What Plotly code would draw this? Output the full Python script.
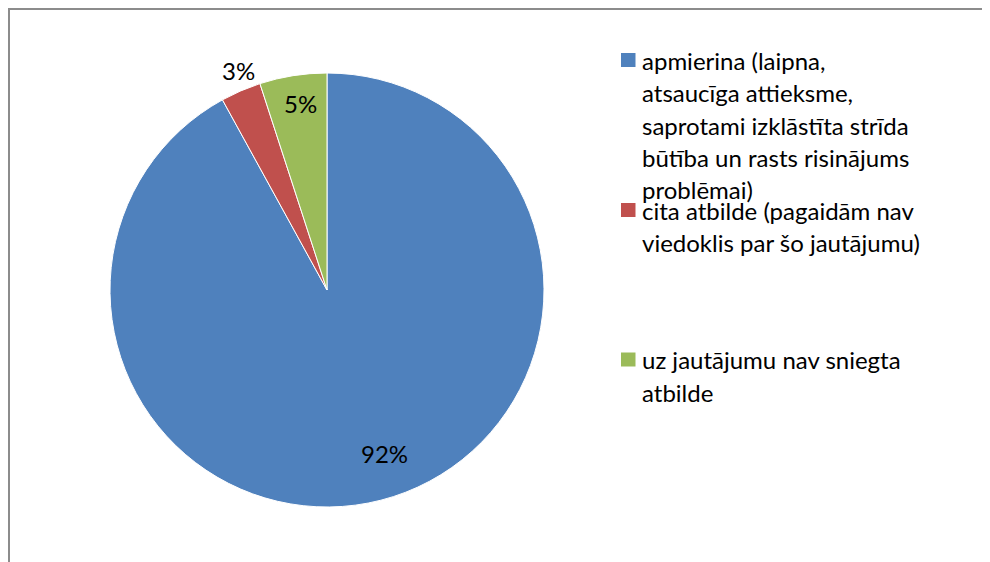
import math
import plotly.graph_objects as go

categories = [
    "apmierina (laipna, atsaucīga attieksme, saprotami izklāstīta strīda būtība un rasts risinājums problēmai)",
    "cita atbilde (pagaidām nav viedoklis par šo jautājumu)",
    "uz jautājumu nav sniegta atbilde",
]
values = [92, 3, 5]
colors = ["#4F81BD", "#C0504D", "#9BBB59"]
legend_lines = [
    ["apmierina (laipna,", "atsaucīga attieksme,", "saprotami izklāstīta strīda",
     "būtība un rasts risinājums", "problēmai)"],
    ["cita atbilde (pagaidām nav", "viedoklis par šo jautājumu)"],
    ["uz jautājumu nav sniegta", "atbilde"],
]
# label placement: radius factor and angular nudge (degrees) per slice
label_radius = [0.80, 1.09, 0.866]
label_nudge = [-5, 1.5, 1]

W, H = 990, 562
OFF = 8  # page body margin offset
FONT = "Lato, Carlito, Calibri, sans-serif"
FS = 24

cx, cy, r = 327 - OFF, 290 - OFF, 217

fig = go.Figure(go.Pie(
    labels=categories,
    values=values,
    sort=False,
    direction="clockwise",
    rotation=0,
    marker=dict(colors=colors, line=dict(color="white", width=1)),
    textinfo="none",
    domain=dict(x=[(cx - r) / W, (cx + r) / W], y=[(H - cy - r) / H, (H - cy + r) / H]),
    showlegend=False,
    hoverinfo="label+percent",
))

annotations = []
shapes = []

# percentage labels computed from the data
total = sum(values)
cum = 0
for i, v in enumerate(values):
    mid = (cum + v / 2) / total * 360 + label_nudge[i]
    cum += v
    a = math.radians(mid)
    px = cx + label_radius[i] * r * math.sin(a)
    py = cy - label_radius[i] * r * math.cos(a)
    annotations.append(dict(text=f"{round(v / total * 100)}%", xref="paper", yref="paper",
                            x=px / W, y=1 - py / H, xanchor="center", yanchor="middle",
                            showarrow=False,
                            font=dict(family=FONT, size=FS, color="black")))

item_tops = [60 - OFF, 210 - OFF, 359.5 - OFF]
line_gap = 32.5
for i, lines in enumerate(legend_lines):
    y0 = item_tops[i]
    shapes.append(dict(type="rect", xref="paper", yref="paper",
                       x0=(621 - OFF) / W, x1=(635.5 - OFF) / W,
                       y0=1 - (y0 - 7) / H, y1=1 - (y0 + 7) / H,
                       fillcolor=colors[i], line=dict(width=0)))
    for j, t in enumerate(lines):
        yy = y0 + j * line_gap
        annotations.append(dict(text=t, xref="paper", yref="paper",
                                x=(640 - OFF) / W, y=1 - yy / H, xanchor="left", yanchor="middle",
                                showarrow=False,
                                font=dict(family=FONT, size=FS, color="black")))

# chart frame (top and left edges visible)
shapes.append(dict(type="line", xref="paper", yref="paper",
                   x0=0, x1=1, y0=1 - 1 / H, y1=1 - 1 / H,
                   line=dict(color="#8C8C8C", width=2)))
shapes.append(dict(type="line", xref="paper", yref="paper",
                   x0=1 / W, x1=1 / W, y0=1, y1=0,
                   line=dict(color="#8C8C8C", width=2)))

fig.update_layout(
    width=W, height=H,
    margin=dict(l=0, r=0, t=0, b=0),
    paper_bgcolor="white", plot_bgcolor="white",
    annotations=annotations, shapes=shapes,
    font=dict(family=FONT),
)
fig.write_html("out.html")
